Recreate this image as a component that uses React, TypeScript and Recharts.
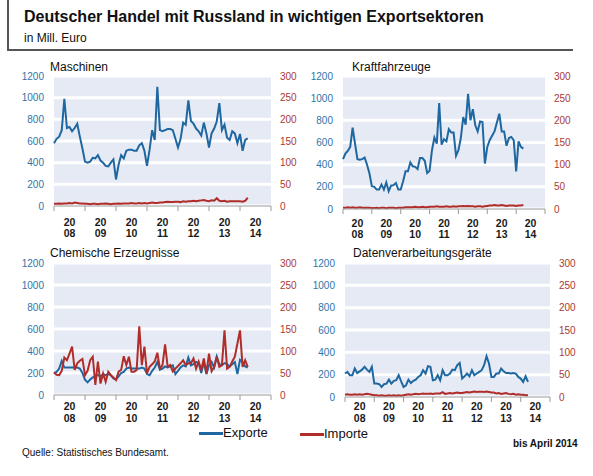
import React from 'react';
import { LineChart, Line, XAxis, YAxis, CartesianGrid } from 'recharts';

// monthly values, Jan 2008 .. Apr 2014 (76 months)
const yearLabels = ['08', '09', '10', '11', '12', '13', '14'];
const yearTicks = [0, 12, 24, 36, 48, 60, 72, 84];
const leftTicks = [0, 200, 400, 600, 800, 1000, 1200];
const rightTicks = [0, 50, 100, 150, 200, 250, 300];

const maschinenExporte = [
  580, 620, 640, 700, 990, 720, 730, 690, 720, 760, 640, 530,
  410, 400, 410, 445, 440, 470, 420, 400, 370, 365, 400, 430,
  245, 380, 470, 440, 510, 520, 520, 510, 510, 560, 580, 510,
  370, 520, 700, 610, 1100, 700, 690, 700, 710, 710, 700, 620,
  540, 620, 770, 750, 975, 785, 760, 715, 690, 650, 770, 670,
  540, 670, 715, 780, 950, 700, 750, 630, 610, 690, 670, 580,
  665, 510, 610, 625,
];
const maschinenImporte = [
  5, 5, 6, 5, 6, 6, 7, 6, 8, 7, 6, 6,
  5, 5, 4, 5, 5, 4, 5, 5, 6, 5, 4, 5,
  5, 6, 5, 6, 6, 6, 7, 6, 6, 7, 6, 7,
  6, 7, 8, 7, 7, 8, 8, 9, 10, 9, 9, 10,
  10, 9, 11, 10, 11, 11, 12, 11, 12, 13, 14, 12,
  11, 13, 12, 18, 12, 11, 12, 10, 11, 11, 11, 11,
  11, 10, 12, 19,
];

const kfzExporte = [
  450, 500, 525, 560, 735, 590, 450, 445, 450, 465, 400, 320,
  205, 200, 175, 175, 220, 175, 240, 160, 210, 215, 235, 175,
  175, 250, 340, 340, 420, 385, 380, 360, 460, 460, 435, 325,
  345, 530, 645, 590, 955, 580, 630, 610, 720, 690, 690, 480,
  530, 640, 830, 760, 1040, 800, 900, 755, 700, 790, 785, 410,
  560, 620, 660, 700, 780, 860, 700, 700, 570, 640, 650, 620,
  340, 610, 560, 545,
];
const kfzImporte = [
  3, 3, 4, 3, 4, 3, 3, 4, 3, 3, 3, 3,
  2, 2, 3, 2, 3, 3, 2, 3, 3, 3, 2, 3,
  3, 3, 4, 4, 4, 4, 5, 4, 4, 5, 4, 4,
  5, 5, 5, 6, 5, 5, 5, 6, 5, 5, 6, 5,
  6, 6, 7, 6, 7, 6, 6, 5, 6, 6, 5, 6,
  7, 8, 8, 9, 8, 8, 9, 8, 7, 8, 8, 8,
  7, 8, 8, 9,
];

const chemieExporte = [
  200, 210, 240, 310, 250, 250, 250, 250, 250, 250, 240, 200,
  140, 115, 140, 160, 170, 180, 170, 190, 180, 190, 180, 150,
  140, 170, 200, 210, 240, 250, 240, 240, 240, 240, 250, 240,
  190, 180, 220, 250, 300, 230, 240, 260, 250, 260, 270, 190,
  220, 250, 270, 260, 340, 270, 280, 300, 290, 200, 300, 190,
  270, 300, 250, 350, 280, 270, 290, 280, 260, 280, 300, 190,
  320, 300, 260, 250,
];
const chemieImporte = [
  51, 46, 45, 55, 85, 79, 94, 110, 57, 72, 78, 82,
  45, 55, 79, 87, 23, 76, 26, 49, 30, 53, 45, 40,
  34, 53, 57, 88, 68, 87, 53, 53, 57, 156, 68, 110,
  49, 64, 70, 76, 96, 60, 68, 115, 64, 68, 53, 60,
  66, 72, 79, 68, 72, 72, 83, 60, 76, 57, 83, 49,
  94, 54, 64, 87, 64, 68, 147, 60, 64, 76, 87, 117,
  147, 64, 79, 64,
];

const datenExporte = [
  210, 225, 195, 195, 255, 215, 230, 245, 270, 245, 225, 270,
  120, 120, 115, 90, 115, 120, 155, 120, 145, 150, 195, 140,
  90, 105, 155, 125, 145, 155, 180, 195, 240, 210, 275, 270,
  150, 155, 195, 150, 240, 195, 195, 210, 245, 240, 285, 305,
  165, 185, 210, 185, 240, 195, 210, 225, 240, 285, 365, 300,
  180, 180, 210, 210, 255, 230, 215, 215, 210, 215, 210, 180,
  165, 135, 185, 135,
];
const datenImporte = [
  5, 6, 5, 5, 6, 5, 6, 5, 6, 7, 6, 5,
  4, 4, 3, 4, 3, 3, 4, 3, 4, 3, 4, 3,
  4, 5, 6, 5, 6, 7, 6, 7, 8, 7, 7, 8,
  7, 8, 8, 8, 11, 7, 8, 9, 8, 9, 10, 9,
  9, 10, 11, 10, 11, 12, 11, 12, 12, 11, 12, 11,
  10, 10, 8, 9, 7, 8, 9, 7, 6, 7, 5, 6,
  5, 5, 4, 4,
];

const FONT = '"Liberation Sans", Arial, Helvetica, sans-serif';
const BLUE = '#1f67a0';
const RED = '#b02d2a';
const LEFT_LABEL = '#2f74a8';
const RIGHT_LABEL = '#a93a33';

const toRows = (ex: number[], im: number[]) =>
  ex.map((v, i) => ({ m: i, ex: v, im: im[i] }));

function YearTick(props: any) {
  const { x, payload, half, base, d1, d2 } = props;
  const idx = Math.round(payload.value / 12);
  if (idx >= yearLabels.length) return <g />;
  const cx = x + half;
  return (
    <text textAnchor="middle" fontSize={10.5} fontWeight="bold" fill="#1a1a1a" fontFamily={FONT}>
      <tspan x={cx} y={base + d1 + 3.8}>20</tspan>
      <tspan x={cx} y={base + d2 + 3.8}>{yearLabels[idx]}</tspan>
    </text>
  );
}

interface PanelProps {
  exporte: number[];
  importe: number[];
  left: number;
  top: number;
  leftW: number;
  plotW: number;
  plotH: number;
  d1: number;
  d2: number;
}

function Panel({ exporte, importe, left, top, leftW, plotW, plotH, d1, d2 }: PanelProps) {
  const rightW = 36;
  const mTop = 16;
  const width = leftW + plotW + rightW;
  const height = mTop + plotH + 34;
  const half = (plotW / 84) * 6;
  const base = mTop + plotH;
  return (
    <div style={{ position: 'absolute', left, top, width, height }}>
      <LineChart
        width={width}
        height={height}
        data={toRows(exporte, importe)}
        margin={{ top: mTop, right: 0, bottom: 0, left: 0 }}
      >
        <CartesianGrid
          xAxisId="x"
          yAxisId="l"
          vertical={false}
          fill="#e6eaf4"
          fillOpacity={1}
          stroke="#ffffff"
          strokeWidth={3}
        />
        <XAxis
          xAxisId="x"
          dataKey="m"
          type="number"
          domain={[0, 84]}
          ticks={yearTicks}
          interval={0}
          height={34}
          tickSize={5}
          tickMargin={0}
          axisLine={{ stroke: '#9a9a9a' }}
          tickLine={{ stroke: '#9a9a9a' }}
          tick={(p: any) => <YearTick {...p} half={half} base={base} d1={d1} d2={d2} />}
        />
        <YAxis
          yAxisId="l"
          orientation="left"
          width={leftW}
          domain={[0, 1200]}
          ticks={leftTicks}
          interval={0}
          axisLine={false}
          tickLine={false}
          tickMargin={4}
          tick={{ fill: LEFT_LABEL, fontSize: 10, fontFamily: FONT }}
        />
        <YAxis
          yAxisId="r"
          orientation="right"
          width={rightW}
          domain={[0, 300]}
          ticks={rightTicks}
          interval={0}
          axisLine={false}
          tickLine={false}
          tickMargin={3}
          tick={{ fill: RIGHT_LABEL, fontSize: 10, fontFamily: FONT, textAnchor: 'start' }}
        />
        <Line
          xAxisId="x"
          yAxisId="l"
          dataKey="ex"
          stroke={BLUE}
          strokeWidth={2}
          dot={false}
          isAnimationActive={false}
        />
        <Line
          xAxisId="x"
          yAxisId="r"
          dataKey="im"
          stroke={RED}
          strokeWidth={2}
          dot={false}
          isAnimationActive={false}
        />
      </LineChart>
    </div>
  );
}

const abs = (left: number, top: number, extra: React.CSSProperties = {}): React.CSSProperties => ({
  position: 'absolute',
  left,
  top,
  whiteSpace: 'nowrap',
  fontFamily: FONT,
  color: '#111',
  ...extra,
});

export default function App() {
  return (
    <div
      style={{
        position: 'absolute',
        left: 0,
        top: 0,
        width: 593,
        height: 476,
        background: '#fff',
        overflow: 'hidden',
        fontFamily: FONT,
      }}
    >
      {/* header frame */}
      <div style={{ position: 'absolute', left: 7, top: 0, width: 1.5, height: 50, background: '#555' }} />
      <div style={{ position: 'absolute', left: 7, top: 49, width: 566, height: 1.5, background: '#555' }} />
      <div style={abs(24, 7, { fontSize: 16, fontWeight: 'bold', lineHeight: '20px' })}>
        Deutscher Handel mit Russland in wichtigen Exportsektoren
      </div>
      <div style={abs(24, 31, { fontSize: 12, lineHeight: '14px' })}>in Mill. Euro</div>

      <Panel exporte={maschinenExporte} importe={maschinenImporte} left={0} top={60} leftW={54} plotW={217} plotH={130} d1={16} d2={27} />
      <Panel exporte={kfzExporte} importe={kfzImporte} left={290} top={60} leftW={53} plotW={202} plotH={133} d1={14} d2={25} />
      <Panel exporte={chemieExporte} importe={chemieImporte} left={0} top={247} leftW={54} plotW={217} plotH={132} d1={11} d2={23} />
      <Panel exporte={datenExporte} importe={datenImporte} left={290} top={247} leftW={55} plotW={205} plotH={134} d1={9} d2={21} />

      <div style={abs(50, 60, { fontSize: 12, lineHeight: '14px' })}>Maschinen</div>
      <div style={abs(352, 60, { fontSize: 12, lineHeight: '14px' })}>Kraftfahrzeuge</div>
      <div style={abs(50, 246, { fontSize: 12, lineHeight: '14px' })}>Chemische Erzeugnisse</div>
      <div style={abs(353, 246, { fontSize: 12, lineHeight: '14px' })}>Datenverarbeitungsgeräte</div>

      {/* legend */}
      <div style={{ position: 'absolute', left: 199, top: 432, width: 24, height: 2.5, background: BLUE }} />
      <div style={abs(223, 425, { fontSize: 13, lineHeight: '16px' })}>Exporte</div>
      <div style={{ position: 'absolute', left: 300, top: 433, width: 24, height: 2.5, background: RED }} />
      <div style={abs(324, 426, { fontSize: 13, lineHeight: '16px' })}>Importe</div>

      <div style={abs(513, 437, { fontSize: 10, fontWeight: 'bold', lineHeight: '14px' })}>bis April 2014</div>
      <div style={abs(22, 446, { fontSize: 10, lineHeight: '14px' })}>Quelle: Statistisches Bundesamt.</div>
    </div>
  );
}
